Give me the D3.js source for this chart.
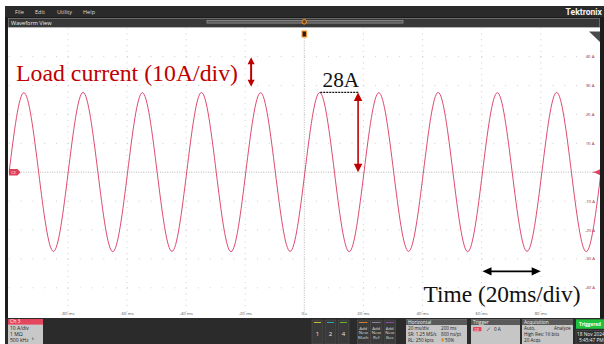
<!DOCTYPE html>
<html>
<head>
<meta charset="utf-8">
<script src="https://cdn.jsdelivr.net/npm/d3@7"></script>
<style>
  html, body { margin: 0; padding: 0; background: #fff; }
  svg { display: block; font-family: "Open Sans", sans-serif; }
</style>
</head>
<body>
<svg width="604" height="344"></svg>
<script>
// scope settings
const TIME_DOMAIN = [-100, 100]      // ms, 10 div x 20 ms
const CURRENT_DOMAIN = [-50, 50]     // A, 10 div x 10 A
const timeTicksMs = [-80, -60, -40, -20, 0, 20, 40, 60, 80]
const timeTickLabels = ['-80 ms', '-60 ms', '-40 ms', '-20 ms', '0 s', '20 ms', '40 ms', '60 ms', '80 ms']
const currentTicksA = [40, 30, 20, 10, -10, -20, -30, -40]
const currentTickLabels = ['40 A', '30 A', '20 A', '10 A', '-10 A', '-20 A', '-30 A', '-40 A']

// waveform: rising zero crossings, then each cycle's peak and trough
const risingZeroMs = [-99.9, -79.9, -59.8, -39.8, -19.8, 0.2, 20.2, 40.3, 60.3, 80.4, 100.4]
const peakA = [27.5, 27.6, 27.5, 27.6, 27.5, 27.6, 27.5, 27.6, 27.5, 27.6]
const troughA = [-27.4, -27.5, -27.4, -27.5, -27.4, -27.5, -27.4, -27.5, -27.4, -27.5]

const menuItems = ['File', 'Edit', 'Utility', 'Help']
const menuX = [15, 35, 57, 83]

const svg = d3.select('svg')

const PLOT = { left: 8, right: 600, top: 27.5, bottom: 318 }

const x = d3.scaleLinear().domain(TIME_DOMAIN).range([8.8, 599.8])
const y = d3.scaleLinear().domain(CURRENT_DOMAIN).range([316.7, 27.7])

// app frame
svg.append('rect').attr('x', 5).attr('y', 6).attr('width', 599).attr('height', 338).attr('fill', '#1c1c1c')
svg.append('rect').attr('x', 5).attr('y', 6).attr('width', 599).attr('height', 11).attr('fill', '#2a2a2a')

svg.append('g').selectAll('text')
  .data(menuItems)
  .join('text')
  .attr('x', (d, i) => menuX[i])
  .attr('y', 13.5)
  .attr('fill', '#dcdcdc')
  .style('font-size', '5.6px')
  .text(d => d)

svg.append('text')
  .attr('x', 602).attr('y', 14.5)
  .attr('text-anchor', 'end')
  .attr('fill', '#f2f2f2')
  .style('font-size', '8.6px')
  .style('font-weight', 'bold')
  .style('font-family', 'Roboto, sans-serif')
  .text('Tektronix')

// "Waveform View" bar
svg.append('rect').attr('x', 8.5).attr('y', 18.5).attr('width', 591).attr('height', 9)
  .attr('fill', '#383838').attr('stroke', '#7a7a7a').attr('stroke-width', 0.8)
svg.append('text').attr('x', 11).attr('y', 25).attr('fill', '#eeeeee')
  .style('font-size', '5.6px').text('Waveform View')
svg.append('rect').attr('x', 207).attr('y', 20.5).attr('width', 196).attr('height', 2.6)
  .attr('fill', '#5a5a5a').attr('stroke', '#9a9a9a').attr('stroke-width', 0.7)

// plot area
svg.append('rect')
  .attr('x', PLOT.left).attr('y', PLOT.top)
  .attr('width', PLOT.right - PLOT.left).attr('height', PLOT.bottom - PLOT.top)
  .attr('fill', '#ffffff')

const grid = svg.append('g')
const xDiv = x(-80) - x(-100)
const yDiv = y(-40) - y(-30)

// major time lines: dots every minor division
grid.selectAll('.vgrid')
  .data(timeTicksMs.filter(d => d !== 0))
  .join('line')
  .attr('x1', d => x(d)).attr('x2', d => x(d))
  .attr('y1', y(50)).attr('y2', y(-50))
  .attr('stroke', '#c4c4c4').attr('stroke-width', 0.9)
  .attr('stroke-dasharray', `0.9,${yDiv / 5 - 0.9}`)

grid.selectAll('.hgrid')
  .data(currentTicksA)
  .join('line')
  .attr('x1', x(-100)).attr('x2', x(100))
  .attr('y1', d => y(d)).attr('y2', d => y(d))
  .attr('stroke', '#c4c4c4').attr('stroke-width', 0.9)
  .attr('stroke-dasharray', `0.9,${xDiv / 5 - 0.9}`)

// centre lines
grid.append('line')
  .attr('x1', x(-100)).attr('x2', x(100)).attr('y1', y(0)).attr('y2', y(0))
  .attr('stroke', '#b0b0b0').attr('stroke-width', 0.9).attr('stroke-dasharray', '1,1.4')
grid.append('line')
  .attr('x1', x(0)).attr('x2', x(0)).attr('y1', 38).attr('y2', y(-50))
  .attr('stroke', '#b0b0b0').attr('stroke-width', 0.9).attr('stroke-dasharray', '1,1.4')

// axis labels inside the graticule
svg.append('g').selectAll('text')
  .data(timeTicksMs)
  .join('text')
  .attr('x', d => x(d))
  .attr('y', 314.5)
  .attr('text-anchor', 'middle')
  .attr('fill', '#555')
  .style('font-size', '4.3px')
  .text((d, i) => timeTickLabels[i])

svg.append('g').selectAll('text')
  .data(currentTicksA)
  .join('text')
  .attr('x', 590)
  .attr('y', d => y(d) + 1.5)
  .attr('text-anchor', 'middle')
  .attr('fill', '#9a2638')
  .style('font-size', '4.3px')
  .text((d, i) => currentTickLabels[i])

// corner triangle
svg.append('path')
  .attr('d', 'M589,31.5 L600,31.5 L600,42 Z')
  .attr('fill', '#4a4a4a')

// waveform
const points = []
peakA.forEach((p, i) => {
  const t0 = risingZeroMs[i], dt = risingZeroMs[i + 1] - t0
  points.push([t0, 0], [t0 + dt / 4, p], [t0 + dt / 2, 0], [t0 + 3 * dt / 4, troughA[i]])
})
points.push([risingZeroMs[risingZeroMs.length - 1], 0])

svg.append('clipPath').attr('id', 'plotclip')
  .append('rect')
  .attr('x', PLOT.left + 0.5).attr('y', PLOT.top)
  .attr('width', PLOT.right - PLOT.left - 0.5).attr('height', PLOT.bottom - PLOT.top)

svg.append('path')
  .datum(points)
  .attr('clip-path', 'url(#plotclip)')
  .attr('fill', 'none')
  .attr('stroke', '#d93860')
  .attr('stroke-width', 0.9)
  .attr('d', d3.line().x(d => x(d[0])).y(d => y(d[1])).curve(d3.curveNatural))

// channel + trigger markers
const zeroY = y(0)
svg.append('path')
  .attr('d', `M9,${zeroY - 3.2} L17.5,${zeroY - 3.2} L20.5,${zeroY} L17.5,${zeroY + 3.2} L9,${zeroY + 3.2} Z`)
  .attr('fill', '#e0405a')
svg.append('text').attr('x', 13.5).attr('y', zeroY + 1.4).attr('text-anchor', 'middle')
  .attr('fill', '#fff').style('font-size', '3.8px').text('C3')
svg.append('path')
  .attr('d', `M600,${zeroY - 3} L594,${zeroY} L600,${zeroY + 3} Z`)
  .attr('fill', '#e0405a')
svg.append('line').attr('x1', 593).attr('x2', 600).attr('y1', zeroY).attr('y2', zeroY)
  .attr('stroke', '#e0405a').attr('stroke-width', 1)

const tx = x(0)
svg.append('circle').attr('cx', tx).attr('cy', 21.8).attr('r', 2.3)
  .attr('fill', '#6b4a2a').attr('stroke', '#f0902a').attr('stroke-width', 1)
svg.append('rect').attr('x', tx - 2.8).attr('y', 30.5).attr('width', 5.6).attr('height', 7)
  .attr('fill', '#f0902a')
svg.append('rect').attr('x', tx - 1.6).attr('y', 31.6).attr('width', 3.2).attr('height', 4.8)
  .attr('fill', '#2a1a10')

// annotations
const annotRed = '#c00000'

function vArrow(g, xa, ya, yb, color, head, shaft) {
  g.append('line').attr('x1', xa).attr('x2', xa).attr('y1', ya + head * 0.9).attr('y2', yb - head * 0.9)
    .attr('stroke', color).attr('stroke-width', shaft)
  g.append('path').attr('d', `M${xa},${ya} L${xa - head / 2},${ya + head} L${xa + head / 2},${ya + head} Z`).attr('fill', color)
  g.append('path').attr('d', `M${xa},${yb} L${xa - head / 2},${yb - head} L${xa + head / 2},${yb - head} Z`).attr('fill', color)
}
function hArrow(g, xa, xb, ya, color, head, shaft) {
  g.append('line').attr('x1', xa + head * 0.9).attr('x2', xb - head * 0.9).attr('y1', ya).attr('y2', ya)
    .attr('stroke', color).attr('stroke-width', shaft)
  g.append('path').attr('d', `M${xa},${ya} L${xa + head},${ya - head * 0.45} L${xa + head},${ya + head * 0.45} Z`).attr('fill', color)
  g.append('path').attr('d', `M${xb},${ya} L${xb - head},${ya - head * 0.45} L${xb - head},${ya + head * 0.45} Z`).attr('fill', color)
}

const ann = svg.append('g').style('font-family', '"Liberation Serif", "Times New Roman", serif')

ann.append('text').attr('x', 16).attr('y', 81)
  .attr('fill', annotRed).style('font-size', '23.8px')
  .text('Load current (10A/div)')
vArrow(ann, x(-18), y(39.8), y(29.6), annotRed, 7, 2)

ann.append('text').attr('x', 322.5).attr('y', 87.3)
  .attr('fill', '#111').style('font-size', '21.3px')
  .text('28A')
ann.append('line')
  .attr('x1', x(5.4)).attr('x2', x(18.4)).attr('y1', y(27.6)).attr('y2', y(27.6))
  .attr('stroke', '#111').attr('stroke-width', 1.2).attr('stroke-dasharray', '2,1')
vArrow(ann, x(18.2), y(27.6), y(0), annotRed, 8.5, 1.6)

hArrow(ann, x(60.3), x(80), y(-34.3), '#000', 9, 1.6)
ann.append('text').attr('x', 423.5).attr('y', 301.5)
  .attr('fill', '#111').style('font-size', '23.4px')
  .text('Time (20ms/div)')

// bottom status bar
const bar = svg.append('g')
bar.append('rect').attr('x', 5).attr('y', 318).attr('width', 599).attr('height', 26).attr('fill', '#2b2b2b')

// channel badge
bar.append('rect').attr('x', 8).attr('y', 319).attr('width', 35).attr('height', 25).attr('fill', '#c8c8c8')
bar.append('rect').attr('x', 8).attr('y', 319).attr('width', 35).attr('height', 5.6).attr('fill', '#e4465e')
bar.append('text').attr('x', 10).attr('y', 323.4).attr('fill', '#fff').style('font-size', '5px').text('Ch 3')
const chLines = ['10 A/div', '1 MΩ', '500 kHz']
bar.selectAll('.chl').data(chLines).join('text')
  .attr('x', 10).attr('y', (d, i) => 329.6 + i * 6)
  .attr('fill', '#222').style('font-size', '5px').text(d => d)
bar.append('text').attr('x', 32).attr('y', 341.4).attr('fill', '#222').style('font-size', '4.5px').text('ʰ')

// channel buttons
const chanButtons = ['1', '2', '4']
const chanColors = ['#d8c93a', '#2ab2c6', '#6cbf3a']
const chanX = [312, 325, 338]
chanButtons.forEach((c, i) => {
  bar.append('rect').attr('x', chanX[i]).attr('y', 320).attr('width', 11).attr('height', 24)
    .attr('fill', '#3a3a3a').attr('stroke', '#555').attr('stroke-width', 0.6)
  bar.append('rect').attr('x', chanX[i] + 2).attr('y', 322).attr('width', 7).attr('height', 0.9).attr('fill', chanColors[i])
  bar.append('text').attr('x', chanX[i] + 5.5).attr('y', 335.5).attr('text-anchor', 'middle')
    .attr('fill', '#e8e8e8').style('font-size', '6px').text(c)
})

const addButtons = [['Add', 'New', 'Math'], ['Add', 'New', 'Ref'], ['Add', 'New', 'Bus']]
const addColors = ['#e08a2a', '#9a8aa8', '#9a4ab0']
const addX = [357.5, 370.5, 384]
addButtons.forEach((lines, i) => {
  bar.append('rect').attr('x', addX[i]).attr('y', 320).attr('width', 11.5).attr('height', 24)
    .attr('fill', '#3a3a3a').attr('stroke', '#555').attr('stroke-width', 0.6)
  bar.append('rect').attr('x', addX[i] + 1.5).attr('y', 322).attr('width', 8.5).attr('height', 0.9).attr('fill', addColors[i])
  lines.forEach((l, j) => {
    bar.append('text').attr('x', addX[i] + 5.75).attr('y', 329.5 + j * 4.8).attr('text-anchor', 'middle')
      .attr('fill', '#dcdcdc').style('font-size', '4.3px').text(l)
  })
})

function panel(x0, w, title) {
  const g = bar.append('g')
  g.append('rect').attr('x', x0).attr('y', 319.5).attr('width', w).attr('height', 24.5).attr('fill', '#c6c6c6')
  g.append('rect').attr('x', x0).attr('y', 319.5).attr('width', w).attr('height', 5.5).attr('fill', '#5a5a5a')
  g.append('text').attr('x', x0 + 2).attr('y', 323.8).attr('fill', '#f0f0f0').style('font-size', '4.8px').text(title)
  return g
}
const txt = (g, x0, y0, s, fill) => g.append('text').attr('x', x0).attr('y', y0)
  .attr('fill', fill || '#222').style('font-size', '4.6px').text(s)

const hp = panel(406, 61, 'Horizontal')
txt(hp, 408, 329.8, '20 ms/div'); txt(hp, 441, 329.8, '200 ms')
txt(hp, 408, 335.8, 'SR: 1.25 MS/s'); txt(hp, 441, 335.8, '800 ns/pt')
txt(hp, 408, 341.8, 'RL: 250 kpts'); txt(hp, 445, 341.8, '50%')
hp.append('rect').attr('x', 441.5).attr('y', 338.3).attr('width', 2.2).attr('height', 3.2).attr('fill', '#e08a2a')

const tp = panel(471, 49, 'Trigger')
tp.append('rect').attr('x', 473).attr('y', 327).attr('width', 8.5).attr('height', 4.2).attr('rx', 0.8).attr('fill', '#e4465e')
txt(tp, 474.5, 330.6, 'C3', '#fff').style('font-size', '3.6px')
tp.append('line').attr('x1', 487).attr('x2', 490).attr('y1', 331).attr('y2', 327.5).attr('stroke', '#444').attr('stroke-width', 0.6)
txt(tp, 494, 330.6, '0 A')

const ap = panel(522, 51, 'Acquisition')
txt(ap, 524, 329.8, 'Auto,'); txt(ap, 554, 329.8, 'Analyze')
txt(ap, 524, 335.8, 'High Res: 16 bits')
txt(ap, 524, 341.8, '20 Acqs')

bar.append('rect').attr('x', 576).attr('y', 319.3).attr('width', 28).attr('height', 9.5).attr('fill', '#1fc23e')
bar.append('text').attr('x', 590).attr('y', 325.6).attr('text-anchor', 'middle')
  .attr('fill', '#fff').style('font-size', '4.6px').style('font-weight', 'bold').text('Triggered')
bar.append('rect').attr('x', 576).attr('y', 330.5).attr('width', 28).attr('height', 13.5)
  .attr('fill', '#2f2f2f').attr('stroke', '#5a5a5a').attr('stroke-width', 0.5)
bar.append('text').attr('x', 577).attr('y', 336.3).attr('fill', '#eee').style('font-size', '4.8px').text('18 Nov 2024')
bar.append('text').attr('x', 579).attr('y', 342).attr('fill', '#eee').style('font-size', '4.8px').text('5:45:47 PM')
</script>
</body>
</html>
